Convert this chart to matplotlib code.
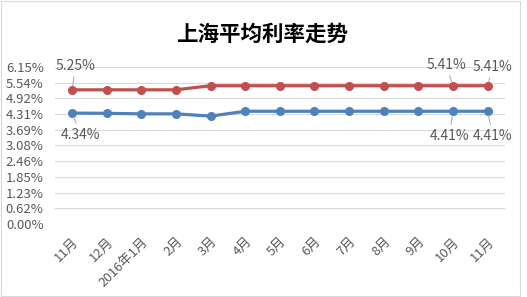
import numpy as np
import matplotlib.pyplot as plt
from matplotlib.patches import Rectangle

plt.rcParams['font.family'] = ['Noto Sans CJK SC', 'DejaVu Sans']

months = ['11月', '12月', '2016年1月', '2月', '3月', '4月', '5月', '6月', '7月', '8月', '9月', '10月', '11月']
red_rate = [5.25, 5.25, 5.25, 5.25, 5.41, 5.41, 5.41, 5.41, 5.41, 5.41, 5.41, 5.41, 5.41]
blue_rate = [4.34, 4.33, 4.31, 4.31, 4.22, 4.41, 4.41, 4.41, 4.41, 4.41, 4.41, 4.41, 4.41]
ytick_labels = ['0.00%', '0.62%', '1.23%', '1.85%', '2.46%', '3.08%', '3.69%', '4.31%', '4.92%', '5.54%', '6.15%']

red = '#C0504D'
blue = '#4F81BD'
text_color = '#595959'

fig = plt.figure(figsize=(5.27, 2.97), dpi=100)
ax = fig.add_axes([0.104, 0.246, 0.854, 0.529])

x = np.arange(len(months))
ax.plot(x, red_rate, color=red, lw=2.3, marker='o', ms=5.5, zorder=3)
ax.plot(x, blue_rate, color=blue, lw=2.3, marker='o', ms=5.5, zorder=3)

ax.set_xlim(-0.5, len(months) - 0.5)
ax.set_ylim(0, 6.15)
yt = np.linspace(0, 6.15, len(ytick_labels))
ax.set_yticks(yt)
ax.set_yticklabels(ytick_labels)
ax.set_xticks(x)
ax.set_xticklabels(months, rotation=45, ha='right', va='top', rotation_mode='anchor')
ax.tick_params(axis='y', length=0, pad=8, labelsize=9.5, labelcolor=text_color)
ax.tick_params(axis='x', length=0, pad=8, labelsize=9.5, labelcolor=text_color)
ax.grid(axis='y', color='#D9D9D9', lw=0.8)
ax.set_axisbelow(True)
for s in ax.spines.values():
    s.set_visible(False)

# data labels with leader lines
arrow = dict(arrowstyle='-', color='#A6A6A6', lw=0.7, shrinkA=1, shrinkB=3)
labels = [
    (0, red_rate, (0.1, 0.95)),
    (11, red_rate, (-0.2, 0.82)),
    (12, red_rate, (0.15, 0.75)),
    (0, blue_rate, (0.25, -0.85)),
    (11, blue_rate, (-0.1, -0.95)),
    (12, blue_rate, (0.15, -0.95)),
]
for i, series, (dx, dy) in labels:
    ax.annotate(f'{series[i]:.2f}%', xy=(i, series[i]), xytext=(i + dx, series[i] + dy),
                ha='center', va='center', fontsize=10, color=text_color,
                arrowprops=arrow, annotation_clip=False)

fig.text(0.497, 0.885, '上海平均利率走势', ha='center', va='center', fontsize=15.5,
         fontweight='bold', color='black')

fig.patches.append(Rectangle((0.002, 0.003), 0.985, 0.994, transform=fig.transFigure,
                             fill=False, edgecolor='#D9D9D9', lw=0.8))

fig.savefig('out.png', dpi=100)
